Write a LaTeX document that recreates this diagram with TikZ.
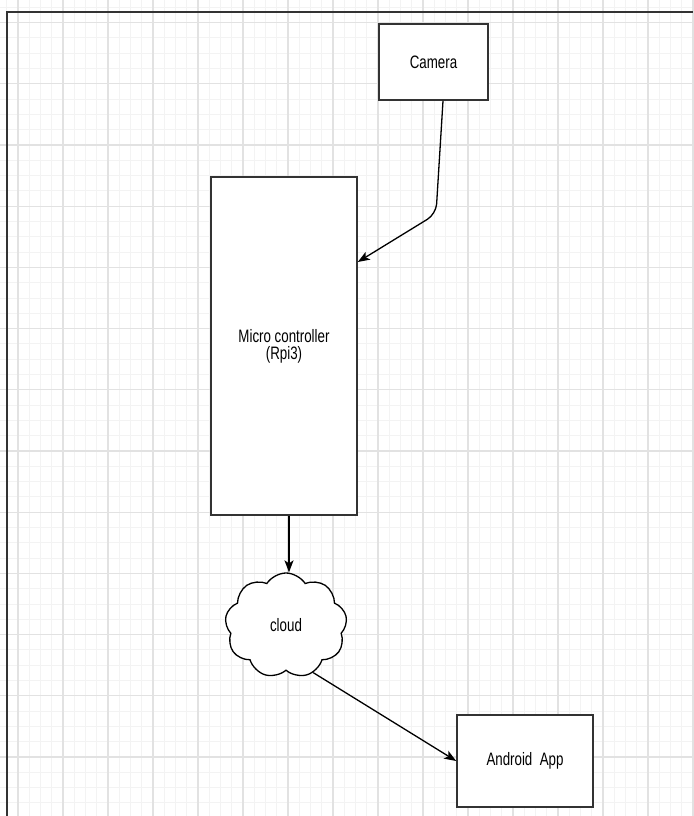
\documentclass[tikz,border=0pt]{standalone}
\usepackage{fontspec}
\newfontfamily\diagfont[FakeStretch=0.74]{Liberation Sans}
\usetikzlibrary{arrows.meta,shapes.symbols}
\definecolor{gridminor}{RGB}{243,243,243}
\definecolor{gridmajor}{RGB}{226,226,226}
\definecolor{boxline}{RGB}{51,51,51}

\begin{document}
\begin{tikzpicture}[x=1pt, y=-1pt,
    every node/.style={font=\diagfont\fontsize{18}{17}\selectfont},
    block/.style={draw=boxline, line width=1.6pt, fill=white, inner sep=0pt},
    link/.style={-{Stealth[length=12pt,width=9pt,inset=3pt]}, line width=1.3pt}]
    \useasboundingbox (0,0) rectangle (693,816);
    % Grid
    \foreach \i in {0,...,61}
        \draw[gridminor, line width=1pt] ({6.75+11.25*\i},0) -- ++(0,816);
    \foreach \j in {0,...,53}
        \draw[gridminor, line width=1pt] (0,{7.3+15.3*\j}) -- ++(693,0);
    \foreach \i in {0,...,15}
        \draw[gridmajor, line width=1.2pt] ({18+45*\i},0) -- ++(0,816);
    \foreach \j in {0,...,13}
        \draw[gridmajor, line width=1.2pt] (0,{22.6+61.2*\j}) -- ++(693,0);
    % Frame
    \draw[boxline, line width=2pt] (7,816) -- (7,12) -- (693,12);
    % Blocks
    \node[block, minimum width=109pt, minimum height=76pt] (camera) at (433.5,62) {Camera};
    \node[block, minimum width=146pt, minimum height=338pt, align=center] (rpi) at (284,346)
        {\raisebox{-12pt}{\parbox{140pt}{\centering Micro controller\\(Rpi3)}}};
    \node[cloud, draw=black, line width=1.3pt, fill=white, cloud puffs=9, cloud puff arc=115,
        cloud ignores aspect, minimum width=122pt, minimum height=105pt, inner sep=0pt]
        (cloud) at (286,625.5) {cloud};
    \node[block, minimum width=136pt, minimum height=92pt] (android) at (525,761) {Android\ \ App};
    % Connectors
    \draw[link, rounded corners=10pt] ([xshift=9.5pt]camera.south) -- (436,214)
        -- ([yshift=84pt]rpi.east);
    \draw[link] ([xshift=5pt]rpi.south) -- ([xshift=5pt]rpi.south |- cloud.north);
    \draw[link] (cloud.-60) -- (android.west);
\end{tikzpicture}
\end{document}
